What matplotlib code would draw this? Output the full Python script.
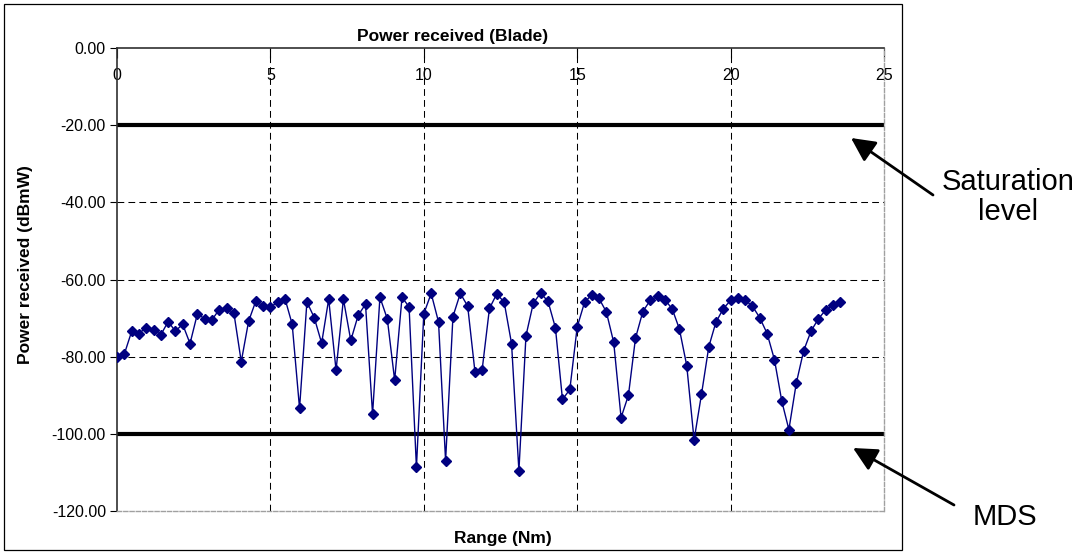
import numpy as np
import matplotlib.pyplot as plt
from matplotlib.patches import Rectangle

plt.rcParams['font.family'] = ['Liberation Sans', 'DejaVu Sans']

# range bins (Nm) and received power (dBmW)
range_nm = [0.00, 0.24, 0.48, 0.71, 0.95, 1.19, 1.43, 1.67, 1.90, 2.14,
            2.38, 2.62, 2.86, 3.10, 3.33, 3.57, 3.81, 4.05, 4.29, 4.52,
            4.76, 5.00, 5.24, 5.48, 5.71, 5.95, 6.19, 6.43, 6.67, 6.90,
            7.14, 7.38, 7.62, 7.86, 8.10, 8.33, 8.57, 8.81, 9.05, 9.29,
            9.52, 9.76, 10.00, 10.24, 10.48, 10.71, 10.95, 11.19, 11.43, 11.67,
            11.90, 12.14, 12.38, 12.62, 12.86, 13.10, 13.33, 13.57, 13.81, 14.05,
            14.29, 14.52, 14.76, 15.00, 15.24, 15.48, 15.71, 15.95, 16.19, 16.43,
            16.67, 16.90, 17.14, 17.38, 17.62, 17.86, 18.10, 18.33, 18.57, 18.81,
            19.05, 19.29, 19.52, 19.76, 20.00, 20.24, 20.48, 20.71, 20.95, 21.19,
            21.43, 21.67, 21.90, 22.14, 22.38, 22.62, 22.86, 23.10, 23.33, 23.57]
power_dbmw = [-80.1, -79.3, -73.4, -74.0, -72.5, -73.0, -74.3, -70.9, -73.4, -71.6,
              -76.6, -68.9, -70.2, -70.4, -67.8, -67.5, -68.7, -81.3, -70.8, -65.7,
              -66.8, -67.2, -65.8, -65.1, -71.6, -93.4, -65.8, -69.9, -76.5, -65.1,
              -83.5, -65.1, -75.8, -69.3, -66.4, -94.9, -64.6, -70.2, -86.1, -64.6,
              -67.1, -108.7, -68.9, -63.6, -71.0, -107.0, -69.6, -63.6, -66.9, -84.1,
              -83.5, -67.5, -63.7, -65.9, -76.6, -109.6, -74.6, -66.1, -63.5, -65.7,
              -72.5, -91.1, -88.5, -72.3, -65.9, -63.9, -64.9, -68.4, -76.3, -95.8,
              -90.0, -75.2, -68.3, -65.4, -64.3, -65.2, -67.7, -72.8, -82.3, -101.6,
              -89.8, -77.4, -71.1, -67.6, -65.4, -64.9, -65.4, -66.9, -69.9, -74.0,
              -80.8, -91.6, -98.9, -86.9, -78.5, -73.4, -70.2, -67.9, -66.7, -65.9]

saturation_level = -20
mds_level = -100
x_ticks = [0, 5, 10, 15, 20, 25]
y_ticks = [0, -20, -40, -60, -80, -100, -120]

W, H = 1091, 556
fig = plt.figure(figsize=(W / 100, H / 100), dpi=100)
ax = fig.add_axes([117 / W, 1 - 511 / H, (884 - 117) / W, (511 - 48) / H])

# chart border
fig.add_artist(Rectangle((4 / W, 1 - 550 / H), 898 / W, 546 / H, transform=fig.transFigure,
                         fill=False, edgecolor='black', lw=0.9))

ax.set_xlim(0, 25)
ax.set_ylim(-120, 0)

grid_kw = dict(color='black', lw=0.75, linestyle=(0, (6.5, 4)), zorder=1)
for xv in x_ticks[1:-1]:
    ax.axvline(xv, **grid_kw)
for yv in [-40, -60, -80]:
    ax.axhline(yv, **grid_kw)

ax.axhline(saturation_level, color='black', lw=3, zorder=2)
ax.axhline(mds_level, color='black', lw=3, zorder=2)

ax.plot(range_nm, power_dbmw, color='#000080', lw=1.0, marker='D',
        markersize=5.3, markerfacecolor='#000080', markeredgecolor='#000080', zorder=3)

ax.xaxis.tick_top()
ax.set_xticks(x_ticks)
ax.set_xticklabels([str(v) for v in x_ticks])
ax.set_yticks(y_ticks)
ax.set_yticklabels([f'{v:.2f}' for v in y_ticks])
ax.tick_params(axis='x', direction='in', length=7, pad=-25, labelsize=11.5, width=0.8)
ax.tick_params(axis='y', direction='out', length=5, pad=3, labelsize=11.5, width=0.8)

for side in ['top', 'left']:
    ax.spines[side].set_color('#303030')
    ax.spines[side].set_linewidth(1.2)
for side in ['right', 'bottom']:
    ax.spines[side].set_color('#a0a0a0')
    ax.spines[side].set_linewidth(1.0)
    ax.spines[side].set_linestyle((0, (3, 1.5)))

fig.text(453 / W, 1 - 36 / H, 'Power received (Blade)', ha='center', va='center',
         fontsize=12.5, fontweight='bold')
fig.text(503 / W, 1 - 539 / H, 'Range (Nm)', ha='center', va='center',
         fontsize=12.5, fontweight='bold')
fig.text(26 / W, 1 - 265 / H, 'Power received (dBmW)', ha='center', va='center',
         rotation=90, fontsize=12.5, fontweight='bold')

fig.text(1008 / W, 1 - 197 / H, 'Saturation\nlevel', ha='center', va='center',
         fontsize=21, linespacing=1.05)
fig.text(1005 / W, 1 - 517 / H, 'MDS', ha='center', va='center', fontsize=21)

arrow_kw = dict(arrowstyle='-|>,head_length=1.0,head_width=0.5', color='black',
                lw=2, mutation_scale=14.5, shrinkA=0, shrinkB=0)
ax.annotate('', xy=(851 / W, 1 - 138 / H), xytext=(933 / W, 1 - 195 / H),
            xycoords='figure fraction', textcoords='figure fraction',
            arrowprops=arrow_kw, annotation_clip=False)
ax.annotate('', xy=(853 / W, 1 - 448 / H), xytext=(954 / W, 1 - 505 / H),
            xycoords='figure fraction', textcoords='figure fraction',
            arrowprops=arrow_kw, annotation_clip=False)

fig.savefig('out.png', dpi=100)
